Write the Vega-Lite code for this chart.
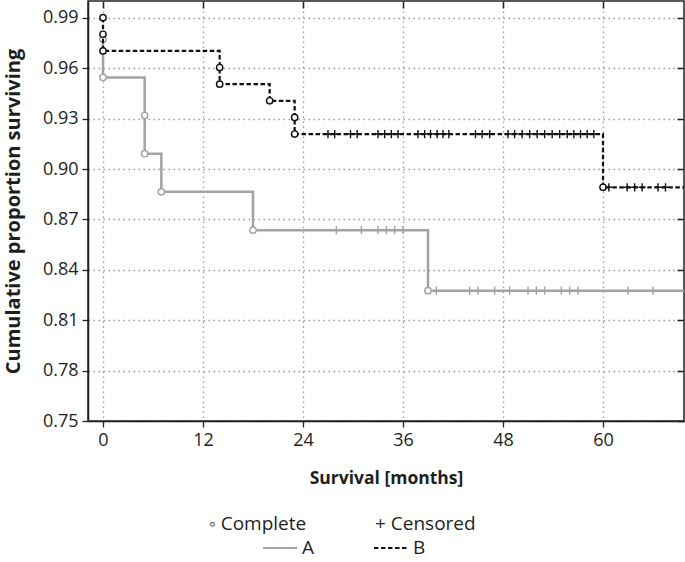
{
  "$schema": "https://vega.github.io/schema/vega-lite/v6.json",
  "width": 596,
  "height": 420,
  "autosize": {"type": "none"},
  "padding": {"left": 88, "top": 1, "right": 1, "bottom": 141},
  "background": "white",
  "config": {
    "font": "Open Sans",
    "view": {"stroke": "#222", "strokeWidth": 1.5},
    "axis": {
      "labelFont": "Open Sans",
      "titleFont": "Open Sans",
      "labelColor": "#1e1e1e",
      "titleColor": "#1e1e1e",
      "labelFontSize": 18,
      "titleFontWeight": "bold",
      "tickSize": 6,
      "tickColor": "#222",
      "tickWidth": 1.3,
      "domainColor": "#222",
      "domainWidth": 1.5,
      "grid": true,
      "gridColor": "#9a9a9a",
      "gridDash": [1.5, 3.5],
      "gridWidth": 1.3
    },
    "legend": {
      "labelFont": "Open Sans",
      "labelFontSize": 19,
      "labelColor": "#1e1e1e"
    }
  },
  "datasets": {
    "km": [
      {"g": "A", "t": 0, "s": 0.9773, "type": "Complete"},
      {"g": "A", "t": 0, "s": 0.9545, "type": "Complete"},
      {"g": "A", "t": 5, "s": 0.9318, "type": "Complete"},
      {"g": "A", "t": 5, "s": 0.9091, "type": "Complete"},
      {"g": "A", "t": 7, "s": 0.8864, "type": "Complete"},
      {"g": "A", "t": 18, "s": 0.8636, "type": "Complete"},
      {"g": "A", "t": 28, "s": 0.8636, "type": "Censored"},
      {"g": "A", "t": 31, "s": 0.8636, "type": "Censored"},
      {"g": "A", "t": 33, "s": 0.8636, "type": "Censored"},
      {"g": "A", "t": 34, "s": 0.8636, "type": "Censored"},
      {"g": "A", "t": 35, "s": 0.8636, "type": "Censored"},
      {"g": "A", "t": 36, "s": 0.8636, "type": "Censored"},
      {"g": "A", "t": 39, "s": 0.8276, "type": "Complete"},
      {"g": "A", "t": 40, "s": 0.8276, "type": "Censored"},
      {"g": "A", "t": 44, "s": 0.8276, "type": "Censored"},
      {"g": "A", "t": 45, "s": 0.8276, "type": "Censored"},
      {"g": "A", "t": 47, "s": 0.8276, "type": "Censored"},
      {"g": "A", "t": 48.8, "s": 0.8276, "type": "Censored"},
      {"g": "A", "t": 51, "s": 0.8276, "type": "Censored"},
      {"g": "A", "t": 52, "s": 0.8276, "type": "Censored"},
      {"g": "A", "t": 53, "s": 0.8276, "type": "Censored"},
      {"g": "A", "t": 55, "s": 0.8276, "type": "Censored"},
      {"g": "A", "t": 56, "s": 0.8276, "type": "Censored"},
      {"g": "A", "t": 57, "s": 0.8276, "type": "Censored"},
      {"g": "A", "t": 63, "s": 0.8276, "type": "Censored"},
      {"g": "A", "t": 66, "s": 0.8276, "type": "Censored"},
      {"g": "A", "t": 69.72, "s": 0.8276, "type": "End"},
      {"g": "B", "t": 0, "s": 0.9901, "type": "Complete"},
      {"g": "B", "t": 0, "s": 0.9802, "type": "Complete"},
      {"g": "B", "t": 0, "s": 0.9703, "type": "Complete"},
      {"g": "B", "t": 14, "s": 0.9604, "type": "Complete"},
      {"g": "B", "t": 14, "s": 0.9505, "type": "Complete"},
      {"g": "B", "t": 20, "s": 0.9406, "type": "Complete"},
      {"g": "B", "t": 23, "s": 0.9307, "type": "Complete"},
      {"g": "B", "t": 23, "s": 0.9208, "type": "Complete"},
      {"g": "B", "t": 27, "s": 0.9208, "type": "Censored"},
      {"g": "B", "t": 27.8, "s": 0.9208, "type": "Censored"},
      {"g": "B", "t": 29.7, "s": 0.9208, "type": "Censored"},
      {"g": "B", "t": 30.5, "s": 0.9208, "type": "Censored"},
      {"g": "B", "t": 33, "s": 0.9208, "type": "Censored"},
      {"g": "B", "t": 33.8, "s": 0.9208, "type": "Censored"},
      {"g": "B", "t": 34.6, "s": 0.9208, "type": "Censored"},
      {"g": "B", "t": 35.4, "s": 0.9208, "type": "Censored"},
      {"g": "B", "t": 37.8, "s": 0.9208, "type": "Censored"},
      {"g": "B", "t": 38.6, "s": 0.9208, "type": "Censored"},
      {"g": "B", "t": 39.3, "s": 0.9208, "type": "Censored"},
      {"g": "B", "t": 40.1, "s": 0.9208, "type": "Censored"},
      {"g": "B", "t": 40.8, "s": 0.9208, "type": "Censored"},
      {"g": "B", "t": 41.5, "s": 0.9208, "type": "Censored"},
      {"g": "B", "t": 44.7, "s": 0.9208, "type": "Censored"},
      {"g": "B", "t": 45.5, "s": 0.9208, "type": "Censored"},
      {"g": "B", "t": 46.4, "s": 0.9208, "type": "Censored"},
      {"g": "B", "t": 48.6, "s": 0.9208, "type": "Censored"},
      {"g": "B", "t": 49.4, "s": 0.9208, "type": "Censored"},
      {"g": "B", "t": 50.3, "s": 0.9208, "type": "Censored"},
      {"g": "B", "t": 51.2, "s": 0.9208, "type": "Censored"},
      {"g": "B", "t": 52.1, "s": 0.9208, "type": "Censored"},
      {"g": "B", "t": 53, "s": 0.9208, "type": "Censored"},
      {"g": "B", "t": 53.9, "s": 0.9208, "type": "Censored"},
      {"g": "B", "t": 54.8, "s": 0.9208, "type": "Censored"},
      {"g": "B", "t": 55.7, "s": 0.9208, "type": "Censored"},
      {"g": "B", "t": 56.5, "s": 0.9208, "type": "Censored"},
      {"g": "B", "t": 57.3, "s": 0.9208, "type": "Censored"},
      {"g": "B", "t": 58.1, "s": 0.9208, "type": "Censored"},
      {"g": "B", "t": 58.9, "s": 0.9208, "type": "Censored"},
      {"g": "B", "t": 60, "s": 0.8891, "type": "Complete"},
      {"g": "B", "t": 60.7, "s": 0.8891, "type": "Censored"},
      {"g": "B", "t": 62.9, "s": 0.8891, "type": "Censored"},
      {"g": "B", "t": 63.8, "s": 0.8891, "type": "Censored"},
      {"g": "B", "t": 64.7, "s": 0.8891, "type": "Censored"},
      {"g": "B", "t": 66.6, "s": 0.8891, "type": "Censored"},
      {"g": "B", "t": 67.5, "s": 0.8891, "type": "Censored"},
      {"g": "B", "t": 69.72, "s": 0.8891, "type": "End"}
    ]
  },
  "data": {"name": "km"},
  "resolve": {"axis": {"x": "independent", "y": "independent"}, "scale": {"shape": "independent"}},
  "layer": [
    {
      "transform": [{"filter": "datum.g === 'A'"}],
      "mark": {"type": "line", "interpolate": "step-after", "strokeWidth": 2.5},
      "encoding": {
        "x": {
          "field": "t", "type": "quantitative",
          "scale": {"domain": [-1.8, 69.72], "nice": false, "zero": false},
          "axis": {"orient": "bottom", "values": [0, 12, 24, 36, 48, 60], "title": "Survival [months]", "titleFontSize": 17.5, "labelPadding": 4, "titlePadding": 20}
        },
        "y": {
          "field": "s", "type": "quantitative",
          "scale": {"domain": [0.75, 1.0], "nice": false, "zero": false},
          "axis": {"orient": "left", "values": [0.75, 0.78, 0.81, 0.84, 0.87, 0.9, 0.93, 0.96, 0.99], "format": ".2f", "title": "Cumulative proportion surviving", "titleFontSize": 20, "labelPadding": 4, "titlePadding": 19}
        },
        "color": {
          "field": "g", "type": "nominal",
          "scale": {"domain": ["A", "B"], "range": ["#a3a3a3", "#111111"]},
          "legend": {"title": null, "orient": "none", "legendX": 174, "legendY": 529, "direction": "horizontal", "columns": 2, "symbolType": "stroke", "symbolSize": 1156, "symbolStrokeWidth": 2, "columnPadding": 55}
        },
        "strokeDash": {
          "field": "g", "type": "nominal",
          "scale": {"domain": ["A", "B"], "range": [[1, 0], [4.5, 2.5]]},
          "legend": {"title": null, "orient": "none", "legendX": 174, "legendY": 529, "direction": "horizontal", "columns": 2, "symbolType": "stroke", "symbolSize": 1156, "symbolStrokeWidth": 2, "columnPadding": 55}
        },
        "order": [{"field": "t", "type": "quantitative"}, {"field": "s", "type": "quantitative", "sort": "descending"}]
      }
    },
    {
      "transform": [{"filter": "datum.g === 'A' && datum.type !== 'End'"}],
      "mark": {"type": "point", "filled": false, "fill": "white", "strokeWidth": 1.4, "opacity": 1, "size": 40},
      "encoding": {
        "x": {"field": "t", "type": "quantitative", "axis": null},
        "y": {"field": "s", "type": "quantitative", "axis": null},
        "stroke": {"field": "g", "type": "nominal", "scale": {"domain": ["A", "B"], "range": ["#a3a3a3", "#111111"]}, "legend": null},
        "shape": {
          "field": "type", "type": "nominal",
          "scale": {"domain": ["Complete", "Censored"], "range": ["circle", "M0,-1.3L0,1.3M-1.1,0L1.1,0"]},
          "legend": null
        }
      }
    },
    {
      "transform": [{"filter": "datum.g === 'B'"}],
      "mark": {"type": "line", "interpolate": "step-after", "strokeWidth": 2.2},
      "encoding": {
        "x": {"field": "t", "type": "quantitative", "axis": null},
        "y": {"field": "s", "type": "quantitative", "axis": null},
        "color": {"field": "g", "type": "nominal"},
        "strokeDash": {"field": "g", "type": "nominal"},
        "order": [{"field": "t", "type": "quantitative"}, {"field": "s", "type": "quantitative", "sort": "descending"}]
      }
    },
    {
      "transform": [{"filter": "datum.g === 'B' && datum.type !== 'End'"}],
      "mark": {"type": "point", "filled": false, "fill": "white", "strokeWidth": 1.4, "opacity": 1, "size": 40},
      "encoding": {
        "x": {"field": "t", "type": "quantitative", "axis": null},
        "y": {"field": "s", "type": "quantitative", "axis": null},
        "stroke": {"field": "g", "type": "nominal", "legend": null},
        "shape": {
          "field": "type", "type": "nominal",
          "scale": {"domain": ["Complete", "Censored"], "range": ["circle", "M0,-1.3L0,1.3M-1.1,0L1.1,0"]},
          "legend": null
        }
      }
    },
    {
      "transform": [{"filter": "false"}],
      "mark": {"type": "point", "filled": false, "stroke": "#222", "opacity": 1, "size": 1},
      "encoding": {
        "x": {"field": "t", "type": "quantitative", "axis": null},
        "y": {"field": "s", "type": "quantitative", "axis": null},
        "shape": {
          "field": "type", "type": "nominal",
          "scale": {"domain": ["Complete", "Censored"], "range": ["circle", "circle"]},
          "legend": {"title": null, "orient": "none", "legendX": 102, "legendY": 513, "direction": "horizontal", "columns": 2, "columnPadding": 49, "labelOffset": 0, "symbolSize": 1, "symbolOpacity": 0, "labelExpr": "datum.label === 'Complete' ? '◦ Complete' : '+ Censored'"}
        }
      }
    },
    {
      "transform": [{"filter": "datum.type === 'End'"}],
      "mark": {"type": "point", "opacity": 0},
      "encoding": {
        "x": {"field": "t", "type": "quantitative", "axis": {"orient": "top", "values": [0, 12, 24, 36, 48, 60], "labels": false, "grid": false, "domain": false, "title": null, "tickSize": 7, "tickWidth": 1.5, "offset": -7}},
        "y": {"field": "s", "type": "quantitative", "axis": {"orient": "right", "values": [0.75, 0.78, 0.81, 0.84, 0.87, 0.9, 0.93, 0.96, 0.99], "labels": false, "grid": false, "domain": false, "title": null, "tickSize": 7, "tickWidth": 1.5, "offset": -7}}
      }
    }
  ]
}
